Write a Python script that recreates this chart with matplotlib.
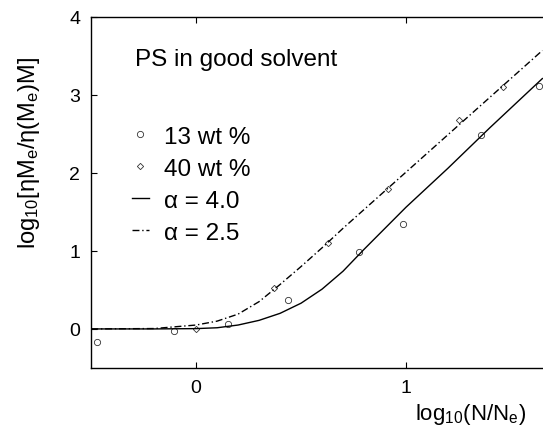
import numpy as np
import matplotlib
matplotlib.use('Agg')
import matplotlib.pyplot as plt

plt.rcParams['font.family'] = ['Liberation Sans', 'DejaVu Sans']
plt.rcParams['mathtext.fontset'] = 'custom'
plt.rcParams['mathtext.rm'] = 'Liberation Sans'
plt.rcParams['mathtext.it'] = 'Liberation Sans'

# ---- data ----
# 13 wt % (circles)
x13 = [-0.473, -0.104, 0.154, 0.436, 0.776, 0.988, 1.357, 1.633]
y13 = [-0.17, -0.03, 0.068, 0.37, 0.99, 1.34, 2.48, 3.11]

# 40 wt % (diamonds)
x40 = [0.0, 0.37, 0.627, 0.912, 1.252, 1.462]
y40 = [0.0, 0.52, 1.10, 1.79, 2.68, 3.10]

# model curves
xc = [-0.5, -0.2, 0.0, 0.1, 0.2, 0.3, 0.4, 0.5, 0.6, 0.7, 0.8, 0.9, 1.0, 1.2, 1.4, 1.65]
y_a40 = [0.0, 0.0, 0.004, 0.015, 0.05, 0.11, 0.20, 0.33, 0.51, 0.74, 1.02, 1.29, 1.56, 2.06, 2.58, 3.21]
y_a25 = [0.0, 0.005, 0.05, 0.10, 0.19, 0.35, 0.57, 0.80, 1.04, 1.29, 1.53, 1.77, 2.01, 2.49, 2.97, 3.57]

# ---- figure ----
fig = plt.figure(figsize=(5.43, 4.27), dpi=100)
ax = fig.add_axes([0.168, 0.136, 0.832, 0.822])

ax.plot(x13, y13, 'o', ms=4.5, mfc='none', mec='#333333', mew=0.6, label='13 wt %')
ax.plot(x40, y40, 'D', ms=3.2, mfc='none', mec='#333333', mew=0.6, label='40 wt %')
ax.plot(xc, y_a40, '-', color='black', lw=1.0, label='α = 4.0')
ax.plot(xc, y_a25, color='black', lw=1.0, ls=(0, (5, 2, 1, 2)), label='α = 2.5')

ax.set_xlim(-0.5, 1.653)
ax.set_ylim(-0.5, 4)
ax.set_xticks([0, 1])
ax.set_yticks([0, 1, 2, 3, 4])
ax.tick_params(direction='in', length=4, width=0.8, labelsize=14, top=True, right=False, pad=8)
ax.spines['right'].set_visible(False)
for s in ['left', 'bottom', 'top']:
    ax.spines[s].set_linewidth(1.0)

ax.set_ylabel(r'log$_{10}$[ηM$_{\rm e}$/η(M$_{\rm e}$)M]', fontsize=17)
ax.yaxis.set_label_coords(-0.11, 0.615)
ax.set_xlabel(r'log$_{10}$(N/N$_{\rm e}$)', fontsize=16)
ax.xaxis.set_label_coords(0.84, -0.095)

ax.text(0.098, 0.88, 'PS in good solvent', transform=ax.transAxes, fontsize=17.5, va='center')

ax.legend(loc='upper left', bbox_to_anchor=(0.09, 0.69), frameon=False, fontsize=17.5,
          handlelength=0.7, handletextpad=0.62, labelspacing=0.41, borderpad=0,
          borderaxespad=0, numpoints=1)

fig.savefig('out.png', dpi=100)
